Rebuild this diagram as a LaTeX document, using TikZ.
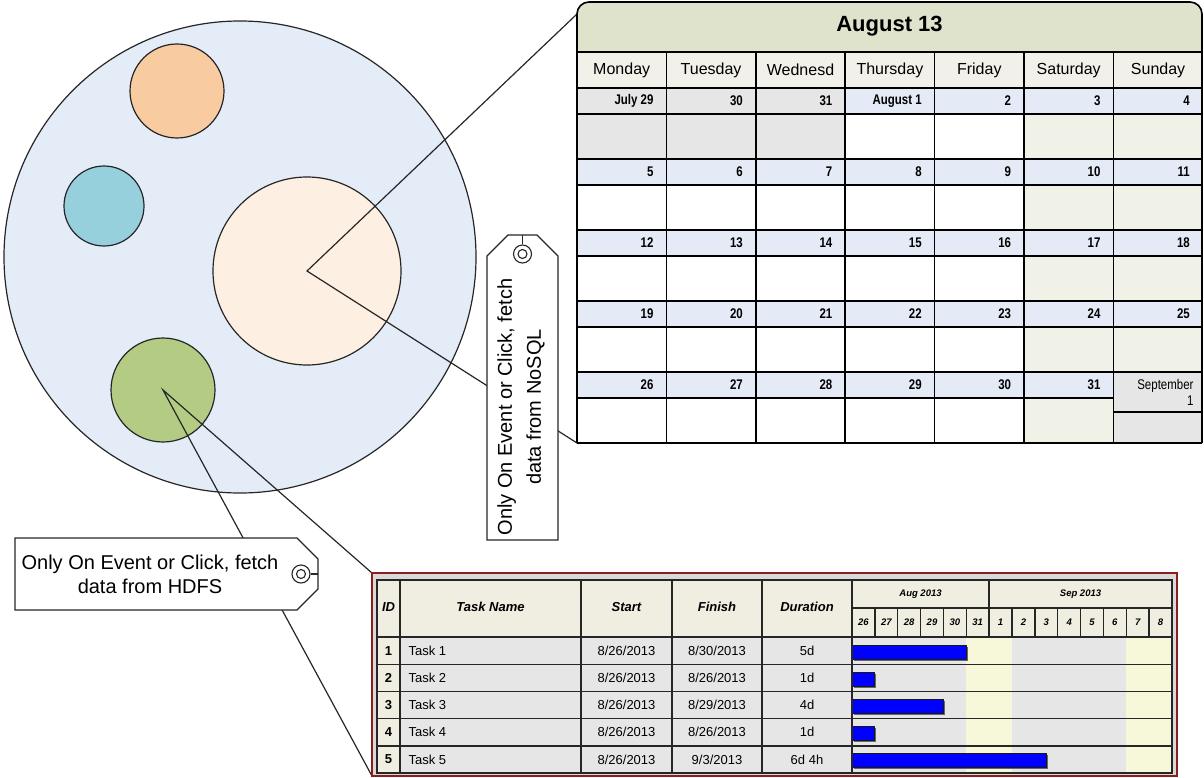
\documentclass[tikz,border=0pt]{standalone}
\usepackage{fontspec}
\setmainfont{Liberation Sans}
\newfontfamily\narrowsans[FakeStretch=0.82]{Liberation Sans}
\definecolor{bigc}{HTML}{E4ECF7}
\definecolor{orng}{HTML}{F8CCA0}
\definecolor{cyanc}{HTML}{96D0DC}
\definecolor{creamc}{HTML}{FDF0E2}
\definecolor{greenc}{HTML}{B4CB84}
\definecolor{hdr}{HTML}{DFE3CC}
\definecolor{dayrow}{HTML}{F1F1EA}
\definecolor{dblue}{HTML}{E4EBF6}
\definecolor{jgray}{HTML}{E6E6E6}
\definecolor{wkend}{HTML}{F0F1E7}
\definecolor{gbeige}{HTML}{F0EDE1}
\definecolor{growc}{HTML}{E6E6E6}
\definecolor{gyel}{HTML}{F7F7D9}
\definecolor{gred}{HTML}{8C1D1D}
\definecolor{gframe}{HTML}{D9D9D9}
\definecolor{barblue}{HTML}{0000FF}
\tikzset{
  circ/.style={circle, draw=black!85, line width=1.2pt, inner sep=0pt, minimum size=#1},
  conn/.style={draw=black!85, line width=1.2pt},
  tagshape/.style={draw=black!85, line width=1.2pt, fill=white},
  hole/.style={circle, draw=black!85, line width=1.1pt, inner sep=0pt, minimum size=#1},
  tagtext/.style={align=center, font=\fontsize{20}{24}\selectfont},
  calline/.style={draw=black, line width=1.6pt},
  dayname/.style={font=\fontsize{16}{18}\selectfont},
  datelab/.style={anchor=east, font=\fontsize{14}{16}\narrowsans\bfseries},
  gline/.style={draw=black!85, line width=1.4pt},
  ghead/.style={font=\fontsize{13}{15}\selectfont\bfseries\itshape},
  gsmall/.style={font=\fontsize{9.5}{11}\selectfont\bfseries\itshape},
  gcell/.style={font=\fontsize{13}{15}\selectfont},
  bar/.style={fill=barblue, draw=black!90, line width=1pt}
}
\newcommand\gantrow[6]{%
  \node[gcell,font=\fontsize{13}{15}\selectfont\bfseries] (gid#1) at (388.5,650.6+27.2*#1) {#2};
  \node[gcell,anchor=west] (gname#1) at (405,650.6+27.2*#1) {#3};
  \node[gcell] (gst#1) at (626.5,650.6+27.2*#1) {#4};
  \node[gcell] (gfi#1) at (717,650.6+27.2*#1) {#5};
  \node[gcell] (gdu#1) at (807,650.6+27.2*#1) {#6};
}
\begin{document}
\begin{tikzpicture}[x=1pt,y=-1pt]
\useasboundingbox (0,0) rectangle (1204,778);

% ---------- circles ----------
\node[circ=472pt, fill=bigc] (big) at (240,257) {};
\node[circ=94pt, fill=orng] (orange) at (177,91) {};
\node[circ=80pt, fill=cyanc] (blue) at (104,206) {};
\node[circ=188pt, fill=creamc] (cream) at (307,271) {};
\node[circ=104pt, fill=greenc] (green) at (163,390) {};

% ---------- anchor coordinates ----------
\coordinate (calTL) at (577,14);
\coordinate (calBL) at (577,443);
\coordinate (ganTL) at (372,573);
\coordinate (ganBL) at (372,776);

\draw[conn] (calTL) -- (cream.center) -- (calBL);
\draw[conn] (ganTL) -- (green.center) -- (ganBL);

% ---------- NoSQL tag ----------
\draw[tagshape] (487,540) -- (487,256) -- (508,235) -- (537,235) -- (558,256) -- (558,540) -- cycle;
\node[hole=18pt] (h1) at (522.5,254) {};
\node[hole=9pt] (h1i) at (h1.center) {};
\draw[draw=black!85, line width=1.1pt] (h1.north) -- (522.5,235);
\node[tagtext, rotate=90, font=\fontsize{20}{29}\selectfont] (tag1) at (521,407) {Only On Event or Click, fetch\\data from NoSQL};

% ---------- HDFS tag ----------
\draw[tagshape] (15,538) -- (297,538) -- (318,559) -- (318,589) -- (297,610) -- (15,610) -- cycle;
\node[hole=18pt] (h2) at (301,574) {};
\node[hole=9pt] (h2i) at (h2.center) {};
\draw[draw=black!85, line width=1.1pt] (h2.east) -- (318,574);
\node[tagtext] (tag2) at (150,574) {Only On Event or Click, fetch\\data from HDFS};

% ---------- calendar ----------
\fill[hdr, rounded corners=12pt] (577,70) -- (577,2) -- (1202,2) -- (1202,70) -- cycle;
\fill[dayrow] (577,52) rectangle (1202,88);
\fill[white] (577,88) rectangle (1202,443);
\foreach \w in {0,...,4} {
  \pgfmathsetmacro\yy{88+71*\w}
  \fill[dblue] (577,\yy) rectangle (1202,\yy+26);
  \fill[wkend] (1024,\yy+26) rectangle (1202,\yy+71);
}
\fill[jgray] (577,88) rectangle (845.2,159);
\fill[jgray] (1113.4,372) rectangle (1202,443);
% grid
\draw[calline] (577,52) -- (1202,52);
\draw[calline] (577,88) -- (1202,88);
\foreach \w in {0,...,3} {
  \pgfmathsetmacro\yy{88+71*\w}
  \draw[calline] (577,\yy+26) -- (1202,\yy+26);
  \draw[calline] (577,\yy+71) -- (1202,\yy+71);
}
\draw[calline] (577,398) -- (1113.4,398);
\draw[calline] (1113.4,412) -- (1202,412);
\foreach \i in {1,...,6} {
  \draw[calline] (577+89.4*\i,52) -- (577+89.4*\i,443);
}
\draw[calline, rounded corners=12pt] (577,443) -- (577,2) -- (1202,2) -- (1202,443);
\draw[calline] (577,443) -- (1202,443);
% texts
\node[font=\fontsize{22}{24}\selectfont\bfseries] (caltitle) at (889.5,26) {August 13};
\foreach \d [count=\i from 0] in {Monday,Tuesday,Wednesd,Thursday,Friday,Saturday,Sunday} {
  \node[dayname] (day\i) at (577+89.4*\i+44.7,70) {\d};
}
\foreach \lab [count=\i from 0] in {July 29,30,31,August 1,2,3,4} {
  \node[datelab] (dw0c\i) at (577+89.4*\i+80,101) {\lab};
}
\foreach \w in {1,2,3} {
  \foreach \i in {0,...,6} {
    \pgfmathtruncatemacro\dd{5+7*(\w-1)+\i}
    \node[datelab] (dw\w c\i) at (577+89.4*\i+80,88+71*\w+13) {\dd};
  }
}
\foreach \lab [count=\i from 0] in {26,27,28,29,30,31} {
  \node[datelab] (dw4c\i) at (577+89.4*\i+80,385) {\lab};
}
\node[anchor=east, align=right, font=\fontsize{14}{16}\narrowsans] (sep1) at (1197,392) {September\\1};

% ---------- Gantt ----------
\draw[draw=gred, line width=2.5pt, fill=gframe] (372,573) rectangle (1177,776);
\fill[gbeige] (377,580) rectangle (1172,637);
\fill[growc] (400,637) rectangle (1172,773);
\fill[gbeige] (377,637) rectangle (400,773);
\fill[gyel] (966.3,637) rectangle (1012,773);
\fill[gyel] (1126.3,637) rectangle (1172,773);
% bars
\foreach \d [count=\k from 0] in {5,1,4,1,8.5} {
  \fill[black!60] (853.5,637+27.2*\k+9.5) rectangle (853.5+22.857*\d,637+27.2*\k+23.5);
  \draw[bar] (852,637+27.2*\k+8) rectangle (852+22.857*\d,637+27.2*\k+22);
}
% grid
\draw[gline] (377,580) rectangle (1172,773);
\foreach \x in {400,581,672,762,852} {
  \draw[gline] (\x,580) -- (\x,773);
}
\draw[gline] (852,608) -- (1172,608);
\draw[gline] (989.1,580) -- (989.1,608);
\foreach \i in {1,...,13} {
  \draw[gline] (852+22.857*\i,608) -- (852+22.857*\i,637);
}
\foreach \k in {0,...,4} {
  \draw[gline] (377,637+27.2*\k) -- (1172,637+27.2*\k);
}
% header texts
\node[ghead] (hid) at (388.5,607) {ID};
\node[ghead] (hname) at (490.5,607) {Task Name};
\node[ghead] (hstart) at (626.5,607) {Start};
\node[ghead] (hfin) at (717,607) {Finish};
\node[ghead] (hdur) at (807,607) {Duration};
\node[gsmall] (haug) at (920.5,594) {Aug 2013};
\node[gsmall] (hsep) at (1080.5,594) {Sep 2013};
\foreach \d [count=\i from 0] in {26,27,28,29,30,31,1,2,3,4,5,6,7,8} {
  \node[gsmall] (gday\i) at (852+22.857*\i+11.43,622.5) {\d};
}
\gantrow{0}{1}{Task 1}{8/26/2013}{8/30/2013}{5d}
\gantrow{1}{2}{Task 2}{8/26/2013}{8/26/2013}{1d}
\gantrow{2}{3}{Task 3}{8/26/2013}{8/29/2013}{4d}
\gantrow{3}{4}{Task 4}{8/26/2013}{8/26/2013}{1d}
\gantrow{4}{5}{Task 5}{8/26/2013}{9/3/2013}{6d 4h}
\end{tikzpicture}
\end{document}
